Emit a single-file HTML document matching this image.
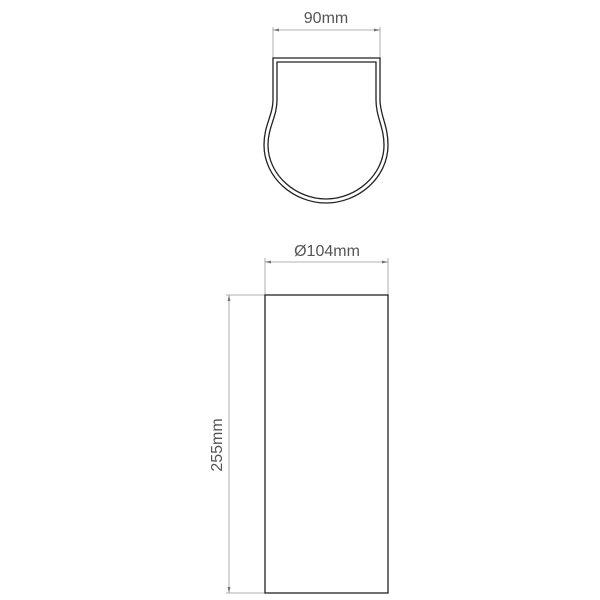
<!DOCTYPE html>
<html><head><style>body{margin:0;background:#fff}svg{display:block}</style></head><body>
<svg width="600" height="600" viewBox="0 0 600 600" xmlns="http://www.w3.org/2000/svg" font-family="Liberation Sans, sans-serif">
<g stroke="#999" stroke-width="0.8" fill="none">
<line x1="273" y1="27" x2="273" y2="58"/><line x1="380" y1="27" x2="380" y2="58"/>
<line x1="273" y1="30" x2="380" y2="30"/>
<line x1="265" y1="258" x2="265" y2="295"/><line x1="388" y1="258" x2="388" y2="295"/>
<line x1="265" y1="262" x2="388" y2="262"/>
<line x1="226" y1="295" x2="265" y2="295"/><line x1="226" y1="593" x2="265" y2="593"/>
<line x1="229" y1="295" x2="229" y2="593"/>
</g>
<g fill="#777">
<path d="M273,30 l6,-1.5 v3z"/><path d="M380,30 l-6,-1.5 v3z"/>
<path d="M265,262 l6,-1.5 v3z"/><path d="M388,262 l-6,-1.5 v3z"/>
<path d="M229,295 l-1.5,6 h3z"/><path d="M229,593 l-1.5,-6 h3z"/>
</g>
<g fill="none" stroke="#222" stroke-width="1.3">
<path d="M273,58 L380,58 L380,100 C380,115 388,125 388,145 C388,178 358,203 326,203 C294,203 264,178 264,145 C264,125 273,115 273,100 Z"/>
<path d="M277,62 L376,62 L376,100 C376,117 384,127 384,145 C384,175 356,199 326,199 C296,199 268,175 268,145 C268,127 277,117 277,100 Z"/>
<rect x="265" y="295" width="123" height="298"/>
</g>
<g fill="#555" font-size="16" text-anchor="middle">
<text x="326" y="23">90mm</text>
<text x="327" y="256">Ø104mm</text>
<text transform="translate(222,445) rotate(-90)">255mm</text>
</g>
</svg>
</body></html>
